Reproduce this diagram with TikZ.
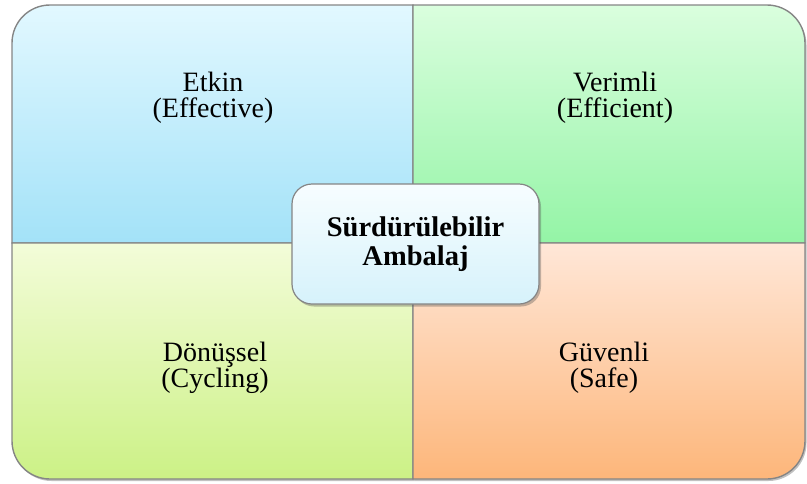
\documentclass[tikz,border=0pt]{standalone}
\usepackage{fontspec}
\setmainfont{Liberation Serif}
\usetikzlibrary{shadows}

\definecolor{tlTop}{HTML}{E2F8FF}
\definecolor{tlBot}{HTML}{A3E2F8}
\definecolor{trTop}{HTML}{DAFEDE}
\definecolor{trBot}{HTML}{94F4A6}
\definecolor{blTop}{HTML}{F3FCD9}
\definecolor{blBot}{HTML}{CCF186}
\definecolor{brTop}{HTML}{FFE7D8}
\definecolor{brBot}{HTML}{FDB67A}
\definecolor{hubTop}{HTML}{F7FDFF}
\definecolor{hubBot}{HTML}{D6F2FB}
\definecolor{edge}{HTML}{858585}

\tikzset{
  quad/.style={draw=edge, line width=1.4pt,
    drop shadow={shadow xshift=1.5pt, shadow yshift=-2pt, opacity=0.35, fill=black!70}},
  label/.style={font=\fontsize{28}{25.5}\selectfont, align=center, anchor=base, inner sep=0pt},
  hub/.style={draw=edge, line width=1.2pt, rounded corners=20pt,
    top color=hubTop, bottom color=hubBot,
    drop shadow={shadow xshift=2pt, shadow yshift=-2.5pt, opacity=0.35, fill=black!70},
    minimum width=247pt, minimum height=120pt, inner sep=0pt,
    font=\fontsize{28.5}{29}\selectfont\bfseries, align=center}
}

\begin{document}
\begin{tikzpicture}[x=1pt, y=-1pt]
\useasboundingbox (0,0) rectangle (807,483);

% four quadrants, each rounded only at its outer corner
\path[quad, top color=tlTop, bottom color=tlBot]
  (12,243) [rounded corners=38pt] -- (12,5) [sharp corners] -- (413,5) -- (413,243) -- cycle;
\path[quad, top color=trTop, bottom color=trBot]
  (413,243) -- (413,5) [rounded corners=38pt] -- (805,5) [sharp corners] -- (805,243) -- cycle;
\path[quad, top color=blTop, bottom color=blBot]
  (12,243) -- (413,243) -- (413,479) [rounded corners=38pt] -- (12,479) [sharp corners] -- cycle;
\path[quad, top color=brTop, bottom color=brBot]
  (413,243) -- (805,243) [rounded corners=38pt] -- (805,479) [sharp corners] -- (413,479) -- cycle;

% quadrant captions (anchored on the baseline of the second line)
\node[label] (etkin)   at (213,117) {Etkin\\(Effective)};
\node[label] (verimli) at (615,117) {Verimli\\(Efficient)};
\node[label] (donus)   at (215,387) {Dönüşsel\\(Cycling)};
\node[label] (guven)   at (604,387) {Güvenli\\(Safe)};

% central box
\node[hub] (center) at (415.5,244) {Sürdürülebilir\\Ambalaj};
\end{tikzpicture}
\end{document}
